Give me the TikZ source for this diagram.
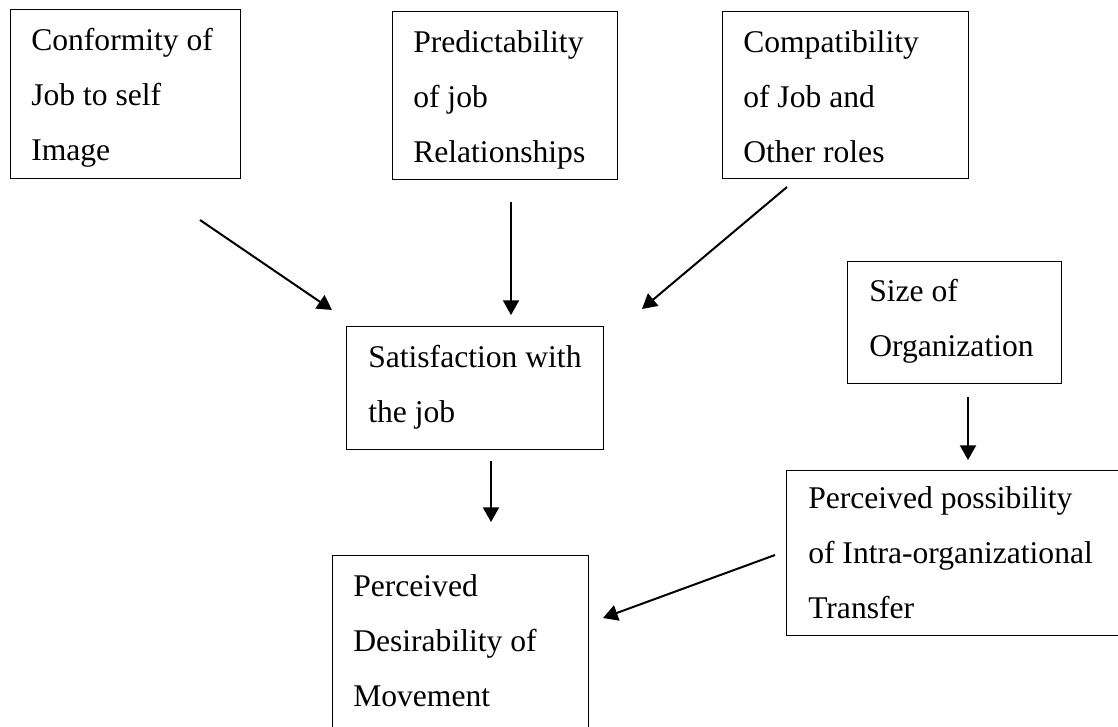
\documentclass[tikz,border=0pt]{standalone}
\usepackage{fontspec}
\setmainfont{Liberation Serif}
\usetikzlibrary{arrows.meta}
\tikzset{
  boxshape/.style 2 args={draw, line width=0.95pt, rectangle, inner sep=0pt, anchor=north west,
    minimum width={#1*0.75pt}, minimum height={#2*0.75pt}},
  boxtext/.style={anchor=north west, inner sep=0pt, align=left,
    font=\fontsize{23.7}{41.25}\selectfont},
  flow/.style={line width=1.5pt, -{Triangle[length=11pt,width=12pt]}}
}
\begin{document}
\begin{tikzpicture}[x=0.75pt,y=-0.75pt]
\useasboundingbox (0,0) rectangle (1118,726);
\clip (0,0) rectangle (1118,726);
% boxes
\node[boxshape={230}{169}] (b1) at (10,9) {};
\node[boxshape={225}{168}] (b2) at (392,11) {};
\node[boxshape={246}{167}] (b3) at (722,11) {};
\node[boxshape={214}{122}] (b4) at (847,261) {};
\node[boxshape={257}{123}] (b5) at (346,326) {};
\node[boxshape={360}{165}] (b6) at (786,470) {};
\node[boxshape={256}{230}] (b7) at (332,555) {};
% texts
\node[boxtext] (t1) at (31,28) {Conformity of\\Job to self\\Image};
\node[boxtext] (t2) at (413,30.5) {Predictability\\of job\\Relationships};
\node[boxtext] (t3) at (743,30.5) {Compatibility\\of Job and\\Other roles};
\node[boxtext] (t4) at (869,278.5) {Size of\\Organization};
\node[boxtext] (t5) at (368,344.5) {Satisfaction with\\the job};
\node[boxtext] (t6) at (808,486.5) {Perceived possibility\\of Intra-organizational\\Transfer};
\node[boxtext] (t7) at (353,574) {Perceived\\Desirability of\\Movement};
% connector ends
\coordinate (a1s) at (200,220); \coordinate (a1e) at (332,310);
\coordinate (a2s) at (511,202); \coordinate (a2e) at (511,315);
\coordinate (a3s) at (787,187); \coordinate (a3e) at (642,309);
\coordinate (a4s) at (968,397); \coordinate (a4e) at (968,460);
\coordinate (a5s) at (491,461); \coordinate (a5e) at (491,522);
\coordinate (a6s) at (775,555); \coordinate (a6e) at (603,618);
\draw[flow] (a1s) -- (a1e);
\draw[flow] (a2s) -- (a2e);
\draw[flow] (a3s) -- (a3e);
\draw[flow] (a4s) -- (a4e);
\draw[flow] (a5s) -- (a5e);
\draw[flow] (a6s) -- (a6e);
\end{tikzpicture}
\end{document}
